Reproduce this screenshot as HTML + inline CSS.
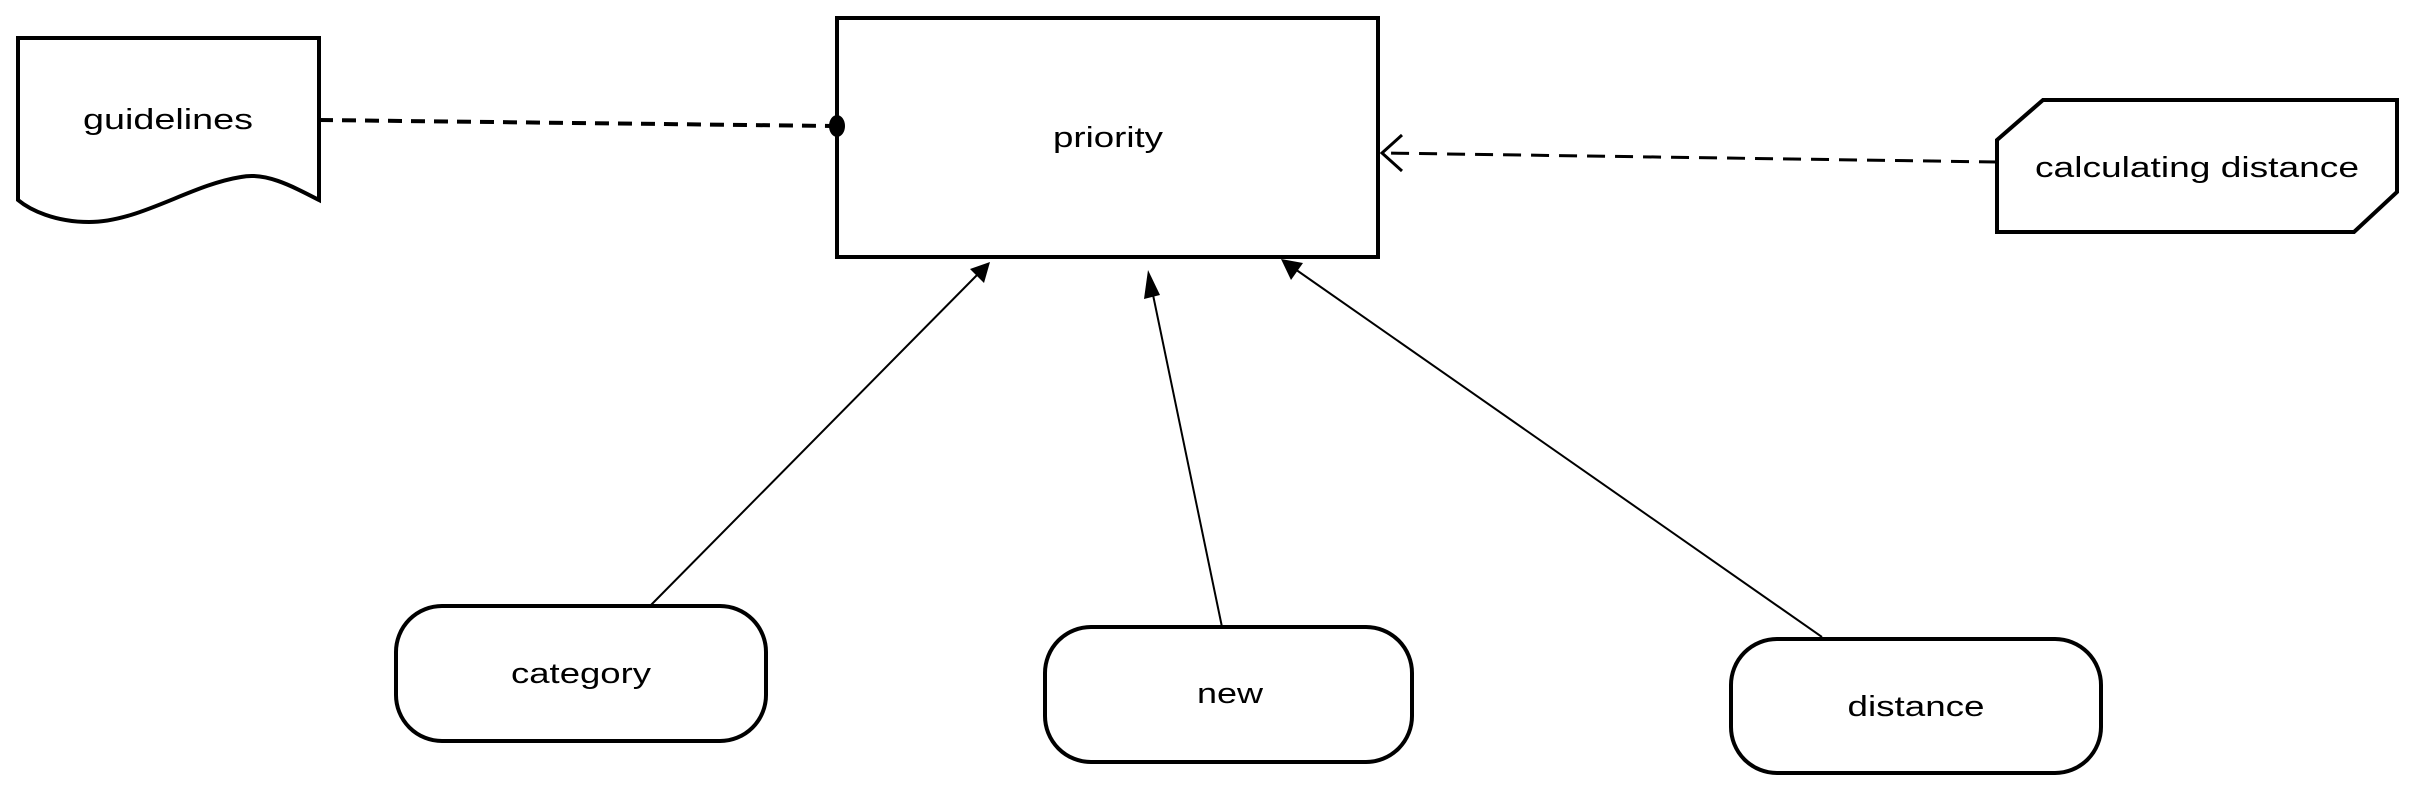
<!DOCTYPE html>
<html><head><style>
html,body{margin:0;padding:0;background:#fff;}
svg{display:block;}
text{font-family:"Liberation Sans",Arial,sans-serif;font-size:29px;fill:#000;text-anchor:middle;}
</style></head><body>
<svg width="2421" height="792" viewBox="0 0 2421 792" xmlns="http://www.w3.org/2000/svg">
<g fill="#fff" stroke="#000" stroke-width="4">
<path d="M18,38 H319 V200 C290,185 265,172 241,177 C190,185 140,222 89,222 C55,222 30,210 18,200 Z"/>
<rect x="837" y="18" width="541" height="239"/>
<path d="M2043,100 H2397 V192 L2354,232 H1997 V140 Z"/>
<rect x="396" y="606" width="370" height="135" rx="46"/>
<rect x="1045" y="627" width="367" height="135" rx="46"/>
<rect x="1731" y="639" width="370" height="134" rx="46"/>
</g>
<line x1="319" y1="120" x2="832" y2="126" stroke="#000" stroke-width="4" stroke-dasharray="14,9"/>
<ellipse cx="837" cy="126" rx="8" ry="11" fill="#000"/>
<line x1="1997" y1="162" x2="1382" y2="153" stroke="#000" stroke-width="3" stroke-dasharray="18,10"/>
<path d="M1402,135 L1382,153 L1402,171" fill="none" stroke="#000" stroke-width="3"/>
<g stroke="#000" stroke-width="2">
<line x1="650" y1="606" x2="980" y2="272"/>
<line x1="1222" y1="627" x2="1152" y2="290"/>
<line x1="1822" y1="637" x2="1295" y2="269"/>
</g>
<path d="M990,262 L984,283 L970,269 Z" fill="#000"/>
<path d="M1148,270 L1160,295 L1144,299 Z" fill="#000"/>
<path d="M1281,259 L1303,263 L1291,280 Z" fill="#000"/>
<text x="168" y="129" textLength="170" lengthAdjust="spacingAndGlyphs">guidelines</text>
<text x="1108" y="147" textLength="110" lengthAdjust="spacingAndGlyphs">priority</text>
<text x="2197" y="177" textLength="324" lengthAdjust="spacingAndGlyphs">calculating distance</text>
<text x="581" y="683" textLength="140" lengthAdjust="spacingAndGlyphs">category</text>
<text x="1230" y="703" textLength="66" lengthAdjust="spacingAndGlyphs">new</text>
<text x="1916" y="716" textLength="137" lengthAdjust="spacingAndGlyphs">distance</text>
</svg>
</body></html>
